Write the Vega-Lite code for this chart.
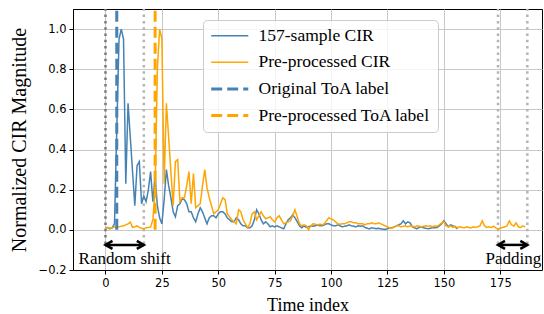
{
  "$schema": "https://vega.github.io/schema/vega-lite/v6.json",
  "width": 469,
  "height": 261,
  "autosize": {"type": "none"},
  "padding": {"left": 73, "top": 9, "right": 2, "bottom": 44},
  "background": "white",
  "config": {
    "view": {"stroke": "black", "strokeWidth": 1},
    "axis": {
      "domainColor": "black", "tickColor": "black", "gridColor": "#c8c8c8", "gridWidth": 1,
      "labelFont": "DejaVu Sans", "labelFontSize": 11.5, "labelColor": "black",
      "titleFont": "Liberation Serif", "titleFontSize": 18, "titleFontWeight": "normal", "titleColor": "black",
      "tickSize": 4, "labelPadding": 3
    },
    "legend": {
      "orient": "none", "legendX": 130, "legendY": 11, "padding": 7,
      "fillColor": "rgba(255,255,255,0.8)", "strokeColor": "#cccccc", "cornerRadius": 4,
      "symbolType": "M-2.5,0L2.5,0", "symbolSize": 220, "symbolOffset": 11,
      "labelFont": "Liberation Serif", "labelFontSize": 17.5, "labelLimit": 300,
      "labelColor": "black", "labelOffset": 20, "rowPadding": 7.6, "title": null
    }
  },
  "datasets": {
    "cir": [
      {"t":0,"157-sample CIR":0.01,"Pre-processed CIR":0.01},
      {"t":1,"157-sample CIR":0.012,"Pre-processed CIR":0.012},
      {"t":2,"157-sample CIR":0.005,"Pre-processed CIR":0.008},
      {"t":3,"157-sample CIR":0.01,"Pre-processed CIR":0.01},
      {"t":4,"157-sample CIR":0.03,"Pre-processed CIR":0.015},
      {"t":5,"157-sample CIR":0.5,"Pre-processed CIR":0.012},
      {"t":6,"157-sample CIR":0.95,"Pre-processed CIR":0.015},
      {"t":7,"157-sample CIR":1.0,"Pre-processed CIR":0.018},
      {"t":8,"157-sample CIR":0.95,"Pre-processed CIR":0.02},
      {"t":9,"157-sample CIR":0.23,"Pre-processed CIR":0.025},
      {"t":10,"157-sample CIR":0.63,"Pre-processed CIR":0.03},
      {"t":11,"157-sample CIR":0.46,"Pre-processed CIR":0.038},
      {"t":12,"157-sample CIR":0.29,"Pre-processed CIR":0.012},
      {"t":13,"157-sample CIR":0.12,"Pre-processed CIR":0.015},
      {"t":14,"157-sample CIR":0.32,"Pre-processed CIR":0.02},
      {"t":15,"157-sample CIR":0.34,"Pre-processed CIR":0.012},
      {"t":16,"157-sample CIR":0.13,"Pre-processed CIR":0.008},
      {"t":17,"157-sample CIR":0.17,"Pre-processed CIR":0.006},
      {"t":18,"157-sample CIR":0.14,"Pre-processed CIR":0.01},
      {"t":19,"157-sample CIR":0.2,"Pre-processed CIR":0.012},
      {"t":20,"157-sample CIR":0.29,"Pre-processed CIR":0.015},
      {"t":21,"157-sample CIR":0.14,"Pre-processed CIR":0.05},
      {"t":22,"157-sample CIR":0.27,"Pre-processed CIR":0.2},
      {"t":23,"157-sample CIR":0.12,"Pre-processed CIR":0.8},
      {"t":24,"157-sample CIR":0.06,"Pre-processed CIR":1.0},
      {"t":25,"157-sample CIR":0.03,"Pre-processed CIR":0.95},
      {"t":26,"157-sample CIR":0.15,"Pre-processed CIR":0.23},
      {"t":27,"157-sample CIR":0.3,"Pre-processed CIR":0.63},
      {"t":28,"157-sample CIR":0.22,"Pre-processed CIR":0.46},
      {"t":29,"157-sample CIR":0.16,"Pre-processed CIR":0.29},
      {"t":30,"157-sample CIR":0.09,"Pre-processed CIR":0.12},
      {"t":31,"157-sample CIR":0.065,"Pre-processed CIR":0.34},
      {"t":32,"157-sample CIR":0.12,"Pre-processed CIR":0.35},
      {"t":33,"157-sample CIR":0.13,"Pre-processed CIR":0.14},
      {"t":34,"157-sample CIR":0.155,"Pre-processed CIR":0.16},
      {"t":35,"157-sample CIR":0.15,"Pre-processed CIR":0.16},
      {"t":36,"157-sample CIR":0.13,"Pre-processed CIR":0.22},
      {"t":37,"157-sample CIR":0.09,"Pre-processed CIR":0.29},
      {"t":38,"157-sample CIR":0.09,"Pre-processed CIR":0.13},
      {"t":39,"157-sample CIR":0.06,"Pre-processed CIR":0.28},
      {"t":40,"157-sample CIR":0.04,"Pre-processed CIR":0.11},
      {"t":41,"157-sample CIR":0.08,"Pre-processed CIR":0.12},
      {"t":42,"157-sample CIR":0.11,"Pre-processed CIR":0.13},
      {"t":43,"157-sample CIR":0.09,"Pre-processed CIR":0.22},
      {"t":44,"157-sample CIR":0.06,"Pre-processed CIR":0.3},
      {"t":45,"157-sample CIR":0.03,"Pre-processed CIR":0.21},
      {"t":46,"157-sample CIR":0.06,"Pre-processed CIR":0.16},
      {"t":47,"157-sample CIR":0.07,"Pre-processed CIR":0.12},
      {"t":48,"157-sample CIR":0.07,"Pre-processed CIR":0.08},
      {"t":49,"157-sample CIR":0.06,"Pre-processed CIR":0.09},
      {"t":50,"157-sample CIR":0.08,"Pre-processed CIR":0.1},
      {"t":51,"157-sample CIR":0.09,"Pre-processed CIR":0.13},
      {"t":52,"157-sample CIR":0.09,"Pre-processed CIR":0.16},
      {"t":53,"157-sample CIR":0.08,"Pre-processed CIR":0.15},
      {"t":54,"157-sample CIR":0.06,"Pre-processed CIR":0.08},
      {"t":55,"157-sample CIR":0.05,"Pre-processed CIR":0.065},
      {"t":56,"157-sample CIR":0.04,"Pre-processed CIR":0.05},
      {"t":57,"157-sample CIR":0.04,"Pre-processed CIR":0.04},
      {"t":58,"157-sample CIR":0.06,"Pre-processed CIR":0.03},
      {"t":59,"157-sample CIR":0.05,"Pre-processed CIR":0.1},
      {"t":60,"157-sample CIR":0.03,"Pre-processed CIR":0.09},
      {"t":61,"157-sample CIR":0.02,"Pre-processed CIR":0.05},
      {"t":62,"157-sample CIR":0.02,"Pre-processed CIR":0.03},
      {"t":63,"157-sample CIR":0.01,"Pre-processed CIR":0.01},
      {"t":64,"157-sample CIR":0.01,"Pre-processed CIR":0.03},
      {"t":65,"157-sample CIR":0.02,"Pre-processed CIR":0.08},
      {"t":66,"157-sample CIR":0.05,"Pre-processed CIR":0.09},
      {"t":67,"157-sample CIR":0.1,"Pre-processed CIR":0.05},
      {"t":68,"157-sample CIR":0.08,"Pre-processed CIR":0.07},
      {"t":69,"157-sample CIR":0.05,"Pre-processed CIR":0.09},
      {"t":70,"157-sample CIR":0.03,"Pre-processed CIR":0.07},
      {"t":71,"157-sample CIR":0.04,"Pre-processed CIR":0.055},
      {"t":72,"157-sample CIR":0.03,"Pre-processed CIR":0.06},
      {"t":73,"157-sample CIR":0.015,"Pre-processed CIR":0.065},
      {"t":74,"157-sample CIR":0.02,"Pre-processed CIR":0.05},
      {"t":75,"157-sample CIR":0.015,"Pre-processed CIR":0.04},
      {"t":76,"157-sample CIR":0.02,"Pre-processed CIR":0.06},
      {"t":77,"157-sample CIR":0.015,"Pre-processed CIR":0.07},
      {"t":78,"157-sample CIR":0.01,"Pre-processed CIR":0.05},
      {"t":79,"157-sample CIR":0.005,"Pre-processed CIR":0.03},
      {"t":80,"157-sample CIR":0.03,"Pre-processed CIR":0.035},
      {"t":81,"157-sample CIR":0.05,"Pre-processed CIR":0.04},
      {"t":82,"157-sample CIR":0.06,"Pre-processed CIR":0.045},
      {"t":83,"157-sample CIR":0.075,"Pre-processed CIR":0.07},
      {"t":84,"157-sample CIR":0.06,"Pre-processed CIR":0.1},
      {"t":85,"157-sample CIR":0.04,"Pre-processed CIR":0.065},
      {"t":86,"157-sample CIR":0.02,"Pre-processed CIR":0.03},
      {"t":87,"157-sample CIR":0.01,"Pre-processed CIR":0.02},
      {"t":88,"157-sample CIR":0.02,"Pre-processed CIR":0.025},
      {"t":89,"157-sample CIR":0.012,"Pre-processed CIR":0.02},
      {"t":90,"157-sample CIR":0.015,"Pre-processed CIR":0.0},
      {"t":91,"157-sample CIR":0.02,"Pre-processed CIR":0.02},
      {"t":92,"157-sample CIR":0.018,"Pre-processed CIR":0.03},
      {"t":93,"157-sample CIR":0.02,"Pre-processed CIR":0.028},
      {"t":94,"157-sample CIR":0.025,"Pre-processed CIR":0.025},
      {"t":95,"157-sample CIR":0.02,"Pre-processed CIR":0.028},
      {"t":96,"157-sample CIR":0.02,"Pre-processed CIR":0.025},
      {"t":97,"157-sample CIR":0.025,"Pre-processed CIR":0.03},
      {"t":98,"157-sample CIR":0.03,"Pre-processed CIR":0.045},
      {"t":99,"157-sample CIR":0.03,"Pre-processed CIR":0.06},
      {"t":100,"157-sample CIR":0.025,"Pre-processed CIR":0.055},
      {"t":101,"157-sample CIR":0.02,"Pre-processed CIR":0.05},
      {"t":102,"157-sample CIR":0.02,"Pre-processed CIR":0.04},
      {"t":103,"157-sample CIR":0.025,"Pre-processed CIR":0.03},
      {"t":104,"157-sample CIR":0.02,"Pre-processed CIR":0.028},
      {"t":105,"157-sample CIR":0.015,"Pre-processed CIR":0.03},
      {"t":106,"157-sample CIR":0.018,"Pre-processed CIR":0.03},
      {"t":107,"157-sample CIR":0.02,"Pre-processed CIR":0.035},
      {"t":108,"157-sample CIR":0.025,"Pre-processed CIR":0.04},
      {"t":109,"157-sample CIR":0.02,"Pre-processed CIR":0.04},
      {"t":110,"157-sample CIR":0.018,"Pre-processed CIR":0.035},
      {"t":111,"157-sample CIR":0.015,"Pre-processed CIR":0.035},
      {"t":112,"157-sample CIR":0.02,"Pre-processed CIR":0.03},
      {"t":113,"157-sample CIR":0.018,"Pre-processed CIR":0.03},
      {"t":114,"157-sample CIR":0.02,"Pre-processed CIR":0.03},
      {"t":115,"157-sample CIR":0.012,"Pre-processed CIR":0.025},
      {"t":116,"157-sample CIR":0.008,"Pre-processed CIR":0.03},
      {"t":117,"157-sample CIR":0.005,"Pre-processed CIR":0.03},
      {"t":118,"157-sample CIR":0.01,"Pre-processed CIR":0.035},
      {"t":119,"157-sample CIR":0.008,"Pre-processed CIR":0.03},
      {"t":120,"157-sample CIR":0.005,"Pre-processed CIR":0.03},
      {"t":121,"157-sample CIR":0.008,"Pre-processed CIR":0.035},
      {"t":122,"157-sample CIR":0.005,"Pre-processed CIR":0.03},
      {"t":123,"157-sample CIR":0.003,"Pre-processed CIR":0.025},
      {"t":124,"157-sample CIR":0.002,"Pre-processed CIR":0.02},
      {"t":125,"157-sample CIR":0.006,"Pre-processed CIR":0.015},
      {"t":126,"157-sample CIR":0.01,"Pre-processed CIR":0.01},
      {"t":127,"157-sample CIR":0.01,"Pre-processed CIR":0.008},
      {"t":128,"157-sample CIR":0.015,"Pre-processed CIR":0.015},
      {"t":129,"157-sample CIR":0.02,"Pre-processed CIR":0.02},
      {"t":130,"157-sample CIR":0.025,"Pre-processed CIR":0.02},
      {"t":131,"157-sample CIR":0.03,"Pre-processed CIR":0.015},
      {"t":132,"157-sample CIR":0.045,"Pre-processed CIR":0.018},
      {"t":133,"157-sample CIR":0.03,"Pre-processed CIR":0.02},
      {"t":134,"157-sample CIR":0.04,"Pre-processed CIR":0.015},
      {"t":135,"157-sample CIR":0.035,"Pre-processed CIR":0.02},
      {"t":136,"157-sample CIR":0.015,"Pre-processed CIR":0.018},
      {"t":137,"157-sample CIR":0.01,"Pre-processed CIR":0.015},
      {"t":138,"157-sample CIR":0.005,"Pre-processed CIR":0.02},
      {"t":139,"157-sample CIR":0.012,"Pre-processed CIR":0.018},
      {"t":140,"157-sample CIR":0.015,"Pre-processed CIR":0.015},
      {"t":141,"157-sample CIR":0.01,"Pre-processed CIR":0.018},
      {"t":142,"157-sample CIR":0.008,"Pre-processed CIR":0.02},
      {"t":143,"157-sample CIR":0.005,"Pre-processed CIR":0.018},
      {"t":144,"157-sample CIR":0.008,"Pre-processed CIR":0.02},
      {"t":145,"157-sample CIR":0.01,"Pre-processed CIR":0.015},
      {"t":146,"157-sample CIR":0.01,"Pre-processed CIR":0.02},
      {"t":147,"157-sample CIR":0.012,"Pre-processed CIR":0.018},
      {"t":148,"157-sample CIR":0.02,"Pre-processed CIR":0.025},
      {"t":149,"157-sample CIR":0.03,"Pre-processed CIR":0.035},
      {"t":150,"157-sample CIR":0.045,"Pre-processed CIR":0.04},
      {"t":151,"157-sample CIR":0.03,"Pre-processed CIR":0.02},
      {"t":152,"157-sample CIR":0.015,"Pre-processed CIR":0.015},
      {"t":153,"157-sample CIR":0.025,"Pre-processed CIR":0.02},
      {"t":154,"157-sample CIR":0.02,"Pre-processed CIR":0.012},
      {"t":155,"157-sample CIR":0.015,"Pre-processed CIR":0.018},
      {"t":156,"157-sample CIR":0.005,"Pre-processed CIR":0.01},
      {"t":157,"Pre-processed CIR":0.015},
      {"t":158,"Pre-processed CIR":0.012},
      {"t":159,"Pre-processed CIR":0.01},
      {"t":160,"Pre-processed CIR":0.015},
      {"t":161,"Pre-processed CIR":0.012},
      {"t":162,"Pre-processed CIR":0.01},
      {"t":163,"Pre-processed CIR":0.015},
      {"t":164,"Pre-processed CIR":0.012},
      {"t":165,"Pre-processed CIR":0.015},
      {"t":166,"Pre-processed CIR":0.02},
      {"t":167,"Pre-processed CIR":0.045},
      {"t":168,"Pre-processed CIR":0.02},
      {"t":169,"Pre-processed CIR":0.012},
      {"t":170,"Pre-processed CIR":0.015},
      {"t":171,"Pre-processed CIR":0.012},
      {"t":172,"Pre-processed CIR":0.018},
      {"t":173,"Pre-processed CIR":0.01},
      {"t":174,"Pre-processed CIR":0.005},
      {"t":175,"Pre-processed CIR":0.008},
      {"t":176,"Pre-processed CIR":0.012},
      {"t":177,"Pre-processed CIR":0.015},
      {"t":178,"Pre-processed CIR":0.02},
      {"t":179,"Pre-processed CIR":0.045},
      {"t":180,"Pre-processed CIR":0.025},
      {"t":181,"Pre-processed CIR":0.018},
      {"t":182,"Pre-processed CIR":0.035},
      {"t":183,"Pre-processed CIR":0.015},
      {"t":184,"Pre-processed CIR":0.012},
      {"t":185,"Pre-processed CIR":0.02},
      {"t":186,"Pre-processed CIR":0.015}
    ],
    "toa": [
      {"x": 5, "series": "Original ToA label"},
      {"x": 22, "series": "Pre-processed ToA label"}
    ],
    "arrows": [
      {"a": 0, "b": 17},
      {"a": 174, "b": 187}
    ],
    "notes": [
      {"x": 8.5, "label": "Random shift"},
      {"x": 180.8, "label": "Padding"}
    ]
  },
  "layer": [
    {
      "data": {"values": [{"x": 17}, {"x": 174}, {"x": 187}]},
      "mark": {"type": "rule", "stroke": "#b4b4b4", "strokeWidth": 2.5, "strokeDash": [2.5, 3.8]},
      "encoding": {
        "x": {"field": "x", "type": "quantitative", "title": "Time index"},
        "y": {"datum": -0.07},
        "y2": {"datum": 1.1}
      }
    },
    {
      "data": {"values": [{"x": 0}]},
      "mark": {"type": "rule", "stroke": "#7a7a7a", "strokeWidth": 2.5, "strokeDash": [2.5, 3.8]},
      "encoding": {
        "x": {"field": "x", "type": "quantitative", "title": "Time index"},
        "y": {"datum": -0.07},
        "y2": {"datum": 1.1}
      }
    },
    {
      "data": {"name": "cir"},
      "transform": [{"fold": ["157-sample CIR", "Pre-processed CIR"], "as": ["series", "v"]}],
      "mark": {"type": "line", "strokeWidth": 1.5},
      "encoding": {
        "x": {
          "field": "t", "type": "quantitative", "title": "Time index",
          "scale": {"domain": [-14.4, 193.5], "nice": false, "zero": false},
          "axis": {"values": [0, 25, 50, 75, 100, 125, 150, 175], "grid": true, "titlePadding": 8}
        },
        "y": {
          "field": "v", "type": "quantitative", "title": "Normalized CIR Magnitude",
          "scale": {"domain": [-0.2, 1.1], "nice": false, "zero": false},
          "axis": {"values": [-0.2, 0, 0.2, 0.4, 0.6, 0.8, 1.0], "format": ".1f", "grid": true, "titlePadding": 9, "titleFontSize": 20}
        },
        "color": {
          "field": "series", "type": "nominal",
          "scale": {
            "domain": ["157-sample CIR", "Pre-processed CIR", "Original ToA label", "Pre-processed ToA label"],
            "range": ["#4682b4", "#ffa500", "#4682b4", "#ffa500"]
          },
          "legend": {
            "title": null,
            "encode": {"symbols": {"update": {"strokeWidth": {"signal": "indexof(['Original ToA label','Pre-processed ToA label'], datum.value) >= 0 ? 3 : 1.5"}}}}
          }
        },
        "strokeDash": {
          "field": "series", "type": "nominal",
          "scale": {
            "domain": ["157-sample CIR", "Pre-processed CIR", "Original ToA label", "Pre-processed ToA label"],
            "range": [[1, 0], [1, 0], [11, 5], [11, 5]]
          },
          "legend": {"title": null}
        }
      }
    },
    {
      "data": {"name": "toa"},
      "mark": {"type": "rule", "strokeWidth": 3},
      "encoding": {
        "x": {"field": "x", "type": "quantitative", "title": "Time index"},
        "y": {"datum": 0},
        "y2": {"datum": 1.1},
        "color": {"field": "series", "type": "nominal", "legend": {"title": null}},
        "strokeDash": {"field": "series", "type": "nominal", "legend": {"title": null}}
      }
    },
    {
      "data": {"name": "arrows"},
      "mark": {"type": "rule", "stroke": "black", "strokeWidth": 2.5},
      "encoding": {
        "x": {"field": "a", "type": "quantitative", "title": "Time index"},
        "x2": {"field": "b"},
        "y": {"datum": -0.075}
      }
    },
    {
      "data": {"name": "arrows"},
      "mark": {"type": "point", "shape": "M1.75,-1L0,0L1.75,1", "size": 64, "filled": false, "stroke": "black", "strokeWidth": 2.5, "opacity": 1},
      "encoding": {
        "x": {"field": "a", "type": "quantitative", "title": "Time index"},
        "y": {"datum": -0.075}
      }
    },
    {
      "data": {"name": "arrows"},
      "mark": {"type": "point", "shape": "M-1.75,-1L0,0L-1.75,1", "size": 64, "filled": false, "stroke": "black", "strokeWidth": 2.5, "opacity": 1},
      "encoding": {
        "x": {"field": "b", "type": "quantitative", "title": "Time index"},
        "y": {"datum": -0.075}
      }
    },
    {
      "data": {"name": "notes"},
      "mark": {"type": "text", "font": "Liberation Serif", "fontSize": 17, "color": "black", "align": "center", "baseline": "middle"},
      "encoding": {
        "x": {"field": "x", "type": "quantitative", "title": "Time index"},
        "y": {"datum": -0.144},
        "text": {"field": "label"}
      }
    }
  ]
}
